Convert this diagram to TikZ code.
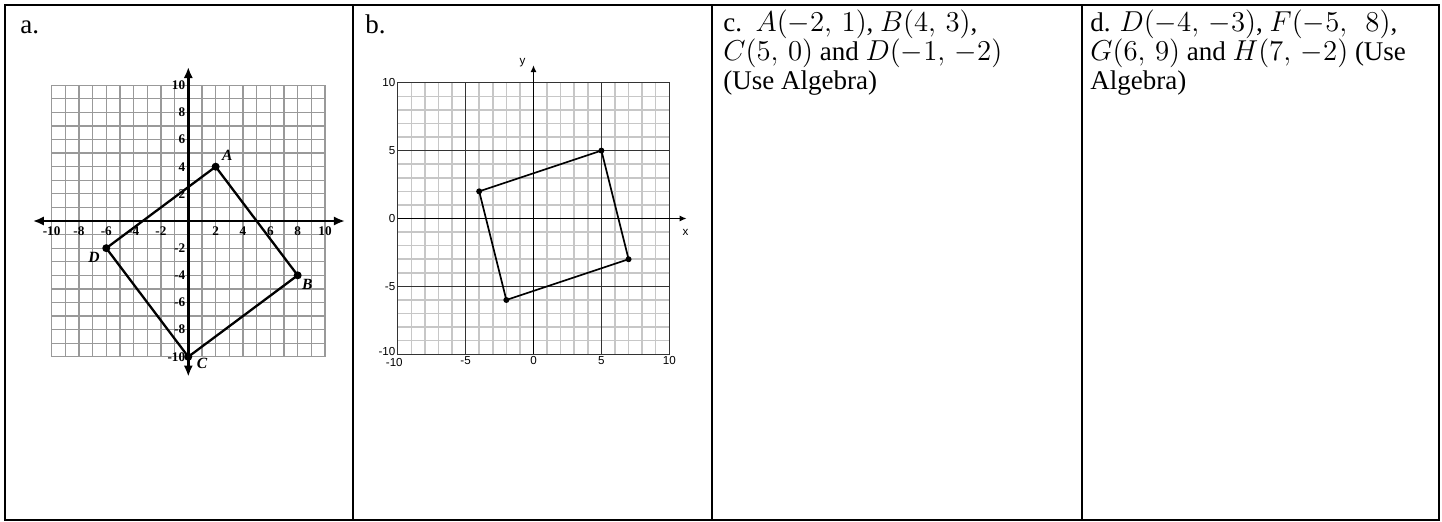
\documentclass[tikz,border=0pt]{standalone}
\usepackage{fontspec}
\setmainfont{Liberation Serif}
\setsansfont{Liberation Sans}
\usetikzlibrary{arrows.meta}
\begin{document}
\begin{tikzpicture}[x=0.5pt,y=-0.5pt,
  frame/.style={line width=1pt,black},
  txt/.style={inner sep=0pt,anchor=base west,font=\fontsize{13.5}{14}\selectfont},
  agrid/.style={black!40,line width=0.65pt},
  aaxis/.style={line width=1.3pt,{Latex[length=5.5pt,width=4.6pt]}-{Latex[length=5.5pt,width=4.6pt]}},
  apoly/.style={line width=1.15pt,line join=round},
  atick/.style={inner sep=0pt,font=\fontsize{6.6}{7}\selectfont\bfseries},
  aname/.style={inner sep=0pt,font=\fontsize{7.8}{8}\selectfont\bfseries\itshape},
  adot/.style={circle,fill=black,inner sep=0pt,minimum size=4pt},
  bminor/.style={black!22,line width=0.75pt},
  bmajor/.style={black!80,line width=0.5pt},
  baxis/.style={line width=0.8pt,-{Latex[length=3.5pt,width=3pt]}},
  bpoly/.style={line width=0.85pt,line join=round},
  btick/.style={inner sep=0pt,font=\sffamily\fontsize{5.8}{6}\selectfont},
  bdot/.style={circle,fill=black,inner sep=0pt,minimum size=3pt}
]
\useasboundingbox (0,0) rectangle (1442,521);
% table
\draw[frame] (5,5) rectangle (1439,519.5);
\coordinate (t1) at (353,5);    \coordinate (b1) at (353,519.5);
\coordinate (t2) at (711.5,5);  \coordinate (b2) at (711.5,519.5);
\coordinate (t3) at (1082,5);   \coordinate (b3) at (1082,519.5);
\draw[frame] (t1) -- (b1);
\draw[frame] (t2) -- (b2);
\draw[frame] (t3) -- (b3);
% texts
\node[txt] (la) at (20,33) {a.};
\node[txt] (lb) at (365,33) {b.};
\node[txt] (lc1) at (723,31) {c.\ \ $A(-2,\,1)$, $B(4,\,3)$,};
\node[txt] (lc2) at (723,60) {$C(5,\,0)$ and $D(-1,\,-2)$};
\node[txt] (lc3) at (723,89) {(Use Algebra)};
\node[txt] (ld1) at (1090,31) {d. $D(-4,\,-3)$, $F(-5,\ \ 8)$,};
\node[txt] (ld2) at (1090,60) {$G(6,\,9)$ and $H(7,\,-2)$ (Use};
\node[txt] (ld3) at (1090,89) {Algebra)};
% panel a
\begin{scope}[shift={(188.3,221)},x=6.835pt,y=6.79pt]
  \draw[agrid,step=1] (-10,-10) grid (10,10);
  \coordinate (axL) at (-11.37,0); \coordinate (axR) at (11.46,0);
  \coordinate (ayB) at (0,-11.46); \coordinate (ayT) at (0,11.34);
  \draw[aaxis] (axL) -- (axR);
  \draw[aaxis] (ayB) -- (ayT);
  \foreach \v in {-10,-8,-6,-4,-2,2,4,6,8,10}{
    \node[atick] (ax\v) at (\v,-0.74) {\v};
    \node[atick,anchor=east] (ay\v) at (-0.2,\v) {\v};
  }
  \node[adot] (A) at (2,4) {};
  \node[adot] (B) at (8,-4) {};
  \node[adot] (C) at (0,-10) {};
  \node[adot] (D) at (-6,-2) {};
  \draw[apoly] (A.center) -- (B.center) -- (C.center) -- (D.center) -- cycle;
  \node[aname] (nA) at (2.85,4.8) {A};
  \node[aname] (nB) at (8.7,-4.7) {B};
  \node[aname] (nC) at (1.0,-10.5) {C};
  \node[aname] (nD) at (-6.9,-2.65) {D};
\end{scope}
% panel b
\begin{scope}[shift={(533.5,218.5)},x=6.79pt,y=6.79pt]
  \draw[bminor,step=1] (-10,-10) grid (10,10);
  \draw[bmajor,step=5] (-10,-10) grid (10,10);
  \draw[bmajor] (-10,-10) rectangle (10,10);
  \coordinate (bxL) at (-10,0); \coordinate (bxR) at (11.28,0);
  \coordinate (byB) at (0,-10); \coordinate (byT) at (0,11.3);
  \draw[baxis] (bxL) -- (bxR);
  \draw[baxis] (byB) -- (byT);
  \node[btick] (bylab) at (-0.8,11.5) {y};
  \node[btick] (bxlab) at (11.2,-1.0) {x};
  \foreach \v in {-5,0,5,10}{
    \node[btick,anchor=east] (by\v) at (-10.15,\v) {\v};
  }
  \node[btick,anchor=east] (by-10) at (-10.15,-9.8) {-10};
  \node[btick,anchor=north] (bx-10) at (-10.25,-10.25) {-10};
  \node[btick,anchor=north] (bx-5) at (-5,-10.15) {-5};
  \node[btick,anchor=north] (bx0) at (0,-10.15) {0};
  \node[btick,anchor=north] (bx5) at (5,-10.15) {5};
  \node[btick,anchor=north] (bx10) at (10,-10.15) {10};
  \node[bdot] (P1) at (-4,2) {};
  \node[bdot] (P2) at (5,5) {};
  \node[bdot] (P3) at (7,-3) {};
  \node[bdot] (P4) at (-2,-6) {};
  \draw[bpoly] (P1.center) -- (P2.center) -- (P3.center) -- (P4.center) -- cycle;
\end{scope}
\end{tikzpicture}
\end{document}
